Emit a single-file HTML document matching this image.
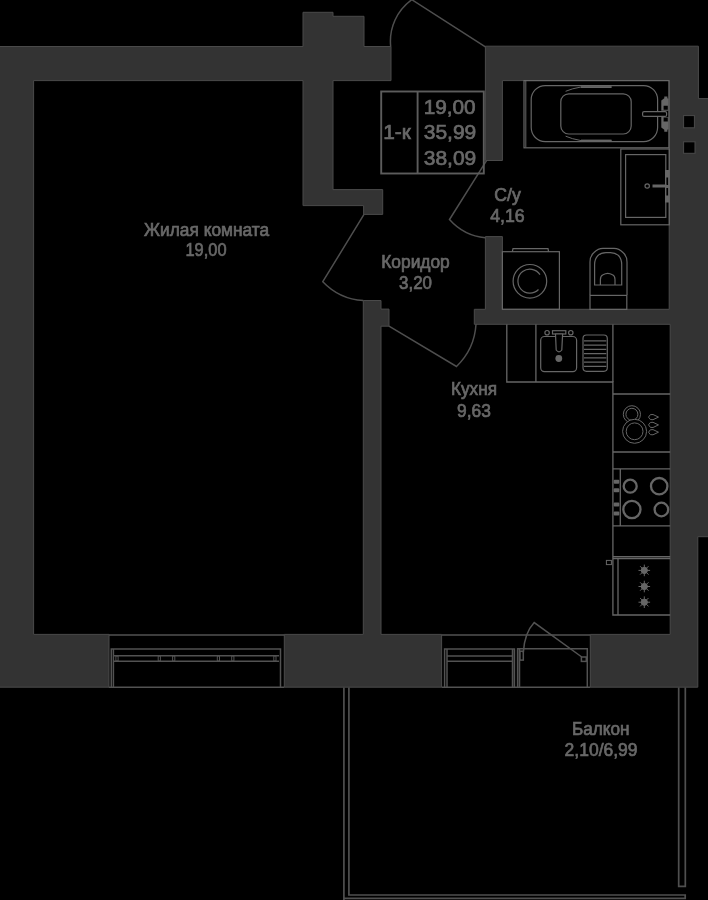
<!DOCTYPE html>
<html><head><meta charset="utf-8">
<style>
html,body{margin:0;padding:0;background:#000;width:708px;height:900px;overflow:hidden}
svg{display:block}
text{font-family:"Liberation Sans",sans-serif;fill:#686868;stroke:#686868;stroke-width:0.7px}
svg{will-change:transform}
</style></head><body>
<svg width="708" height="900" viewBox="0 0 708 900">
<rect width="708" height="900" fill="#000"/>
<!-- walls -->
<g fill="#333" stroke="#4a4a4a" stroke-width="1">
<path d="M-2 46.5 H303 V12.3 H333 V16.3 H364 V46.5 H391 V80.6 H333 V189.6 H382.7 V214.4 H363.6 V205.6 H303 V80.6 H33.6 V634.4 H109 V687.2 H-2 Z"/>
<path d="M284.3 634.4 H363.3 V300.5 H381 V309.1 H389 V326.2 H381 V634.4 H441.6 V687.2 H284.3 Z"/>
<path d="M485.4 46.2 H698.4 V98.6 H710 V536.7 H697.8 V687.2 H590.3 V634.4 H670.2 V324.3 H474.3 V309.3 H485.4 V236.6 H502.4 V309.3 H669.2 V80.6 H502.4 V160.5 H485.4 Z"/>
</g>
<!-- vent holes -->
<g fill="#000" stroke="#4a4a4a" stroke-width="1">
<rect x="683.6" y="115.6" width="10.8" height="12.2"/>
<rect x="683.6" y="141.8" width="11.4" height="11.5"/>
</g>
<!-- doors -->
<g fill="none" stroke="#4e4e4e" stroke-width="1.5">
<path d="M390.7 46.5 A51 51 0 0 1 411.8 -0.3 L485.4 46.9"/>
<path d="M364 214.4 L322.8 281.7 A61.5 61.5 0 0 0 363.3 300.6"/>
<path d="M389 326.2 L456.5 366.5 A64 64 0 0 0 476 324.3"/>
<path d="M486.5 160.6 L449.5 219.5 A55 55 0 0 0 485.4 237.8"/>
</g>
<!-- windows -->
<g fill="none" stroke="#525252" stroke-width="1.5">
<line x1="109" y1="634.9" x2="284.3" y2="634.9"/>
<line x1="109" y1="687.2" x2="284.3" y2="687.2"/>
<path d="M111.3 687 V649 H280.5 V687"/>
<line x1="113.4" y1="649" x2="113.4" y2="687"/>
<line x1="113.4" y1="655.8" x2="279" y2="655.8"/>
<line x1="113.4" y1="661.3" x2="279" y2="661.3"/>
<rect x="115.9" y="656" width="2.2" height="5" stroke-width="1"/><rect x="158.2" y="656" width="2.2" height="5" stroke-width="1"/><rect x="172.6" y="656" width="2.2" height="5" stroke-width="1"/><rect x="217.3" y="656" width="2.2" height="5" stroke-width="1"/><rect x="231.7" y="656" width="2.2" height="5" stroke-width="1"/><rect x="273.8" y="656" width="2.2" height="5" stroke-width="1"/>
<line x1="441.6" y1="634.9" x2="590.3" y2="634.9"/>
<line x1="441.6" y1="687.2" x2="590.3" y2="687.2"/>
<path d="M444.6 687 V648.9 H514.4 V687 M447 649 V687 M512.5 649 V687"/>
<line x1="447" y1="656.1" x2="512.5" y2="656.1"/>
<line x1="447" y1="661.3" x2="512.5" y2="661.3"/>
<path d="M517.6 687 V648.7 H587.3 V687 M519.5 649 V687"/>
<rect x="519.9" y="651.2" width="3.4" height="8.9"/>
<rect x="581.4" y="657" width="4.9" height="4.4"/>
<path d="M523.3 652.5 Q524.5 633 534.2 622.6 L581.8 657"/>
</g>
<!-- balcony -->
<g fill="none" stroke="#4f4f4f" stroke-width="1.7">
<path d="M343.9 687.5 V902 M348.9 687.5 V895 H685.2 V898.4 H343.9"/>
<path d="M678.7 687.5 V886.4 H685.3 V687.5"/>
</g>
<!-- info box -->
<g fill="none" stroke="#5c5c5c" stroke-width="1.9">
<rect x="381.2" y="91.5" width="102.6" height="82"/>
<line x1="417.6" y1="91.5" x2="417.6" y2="173.5"/>
</g>
<!-- labels -->
<g font-size="17.6" text-anchor="middle">
<text x="206.6" y="235.5" textLength="125" lengthAdjust="spacingAndGlyphs">Жилая комната</text>
<text font-size="18.5" x="206" y="256.3" textLength="41" lengthAdjust="spacingAndGlyphs">19,00</text>
<text x="507.6" y="200.8" textLength="26.5" lengthAdjust="spacingAndGlyphs">С/у</text>
<text font-size="18.5" x="507.4" y="221.6" textLength="34.5" lengthAdjust="spacingAndGlyphs">4,16</text>
<text x="415.5" y="267.6" textLength="68.6" lengthAdjust="spacingAndGlyphs">Коридор</text>
<text font-size="18.5" x="415.5" y="288.8" textLength="33" lengthAdjust="spacingAndGlyphs">3,20</text>
<text x="474" y="394.7" textLength="45.9" lengthAdjust="spacingAndGlyphs">Кухня</text>
<text font-size="18.5" x="474" y="416.6" textLength="33.8" lengthAdjust="spacingAndGlyphs">9,63</text>
<text x="600.8" y="734.8" textLength="57.6" lengthAdjust="spacingAndGlyphs">Балкон</text>
<text font-size="18.5" x="601.1" y="756.2" textLength="73" lengthAdjust="spacingAndGlyphs">2,10/6,99</text>
</g>
<g font-size="21" text-anchor="middle">
<text x="397" y="139.4" textLength="27.6" lengthAdjust="spacingAndGlyphs">1-к</text>
<text x="449.7" y="114.2" textLength="52" lengthAdjust="spacingAndGlyphs">19,00</text>
<text x="450" y="139.4" textLength="52.5" lengthAdjust="spacingAndGlyphs">35,99</text>
<text x="450" y="164.6" textLength="52.5" lengthAdjust="spacingAndGlyphs">38,09</text>
</g>
<!-- bathtub -->
<g fill="none" stroke="#666666" stroke-width="1.2">
<rect x="524" y="80.6" width="145" height="67.2"/>
<line x1="525.8" y1="81" x2="525.8" y2="147.5" stroke-width="1"/>
<rect x="531.2" y="85.6" width="126.4" height="56" rx="14" ry="14"/>
<rect x="560.8" y="93.8" width="70.4" height="40.2" rx="8" ry="8"/>
<path d="M565.6 91.3 Q572 88.5 581 87 H611.5" stroke-width="1"/>
<path d="M581 87.1 H611.5" stroke-width="1.8"/>
<path d="M565.6 136.2 Q572 139 581 140.6 H611.5" stroke-width="1"/>
<path d="M581 140.5 H611.5" stroke-width="1.8"/>
<rect x="642.6" y="111.6" width="24" height="4.8" rx="1.5" fill="#000"/>
<path d="M661.3 110.8 V100.5 L664.3 98.2 V96.4 H667.4 V98.2 L668.6 98.8 V110.8 Z M663.6 105.8 V109.8 H667.8 V105.8 Z" fill="#666666" fill-rule="evenodd" stroke="none"/>
<path d="M661.3 117 V127.5 L664.3 129.8 V131.7 H667.4 V129.8 L668.6 129.2 V117 Z M663.6 117.6 V121.6 H667.8 V117.6 Z" fill="#666666" fill-rule="evenodd" stroke="none"/>
</g>
<!-- bathroom sink -->
<g fill="none" stroke="#666666" stroke-width="1.2">
<rect x="620.8" y="149" width="48.5" height="75.8"/>
<rect x="625.6" y="154.6" width="40.2" height="62.8"/>
<circle cx="647.2" cy="186" r="2.2"/>
<rect x="652.5" y="184.5" width="14" height="3" fill="#666666" stroke="none"/>
<path d="M665 170 H669 V202.5 H665 Z M666 177.5 V185 H668.2 V177.5 Z M666 188 V195.5 H668.2 V188 Z" fill="#666666" fill-rule="evenodd" stroke="none"/>
</g>
<!-- washing machine -->
<g fill="none" stroke="#666666" stroke-width="1.2">
<rect x="502.4" y="251.7" width="57" height="57.6"/>
<path d="M512.3 251.9 L513 248.6 H548 L548.6 251.9"/>
<circle cx="529.9" cy="281.3" r="16.8"/>
<path d="M540 274.6 A12 12 0 1 0 538.5 289.5"/>
</g>
<!-- toilet -->
<g fill="none" stroke="#666666" stroke-width="1.2">
<path d="M590 295 V262 Q590 256 594 252.5 Q598 248.4 603 248.4 H614 Q619 248.4 623 252.5 Q627 256 627 262 V295"/>
<rect x="590" y="295.4" width="36.8" height="14"/>
<path d="M594.6 285 V264.5 Q594.6 259 598 255.5 Q601 252.6 606 252.6 H610.5 Q615 252.6 618.5 255.5 Q621.7 259 621.7 264.5 V285 Z"/>
<path d="M600.4 285 V279.5 Q600.4 276 603 274.8 Q605.5 273.3 607.7 273.3 Q610 273.3 612.5 274.8 Q615 276 615 279.5 V285"/>
</g>
<!-- kitchen counters -->
<g fill="none" stroke="#666666" stroke-width="1.3">
<path d="M506.8 324.5 V382 H612.9 V615 H670.2"/>
<line x1="535.9" y1="324.5" x2="535.9" y2="382"/>
<line x1="612.9" y1="324.5" x2="612.9" y2="382"/>
<line x1="612.9" y1="394" x2="670.2" y2="394"/>
<line x1="612.9" y1="452" x2="670.2" y2="452"/>
<path d="M612.9 468.9 H670.2 M612.9 525.8 H670.2 M620.3 468.9 V525.8"/>
<path d="M612.9 556.7 H670.2 M612.9 558.5 H670.2 M618 558.5 V615"/>
</g>
<!-- kitchen sink -->
<g fill="none" stroke="#666666" stroke-width="1.2">
<rect x="540.7" y="336.5" width="35.9" height="35.1" rx="3.8"/>
<rect x="583" y="335" width="24.3" height="36.3" rx="3.5"/>
<path d="M584 340.9 H606.3 M584 345.1 H606.3 M584 349.4 H606.3 M584 353.6 H606.3 M584 357.8 H606.3 M584 362.1 H606.3 M584 366.3 H606.3"/>
<rect x="552.5" y="330.7" width="13.3" height="3.3" fill="#000"/>
<path d="M555.5 334 L556.2 350 Q559 353.8 561.8 350 L562.6 334 Z" fill="#000"/>
<circle cx="547.1" cy="332.7" r="2.2" fill="#000"/>
<circle cx="570.8" cy="332.7" r="2.2" fill="#000"/>
</g>
<circle cx="558.8" cy="358.5" r="3.4" fill="#666666"/>
<!-- dishwasher -->
<g fill="none" stroke="#666666" stroke-width="1">
<circle cx="631.9" cy="414.3" r="8.6"/>
<circle cx="631.9" cy="414.3" r="6"/>
<circle cx="634.6" cy="431.3" r="12" fill="#000"/>
<circle cx="634.6" cy="431.3" r="8.4"/>
<path d="M648.5 417.1 Q650 413.5 653 414.5 L658.5 417.1 L653 419.7 Q650 420.7 648.5 417.1 Z"/>
<path d="M648.5 424.9 Q650 421.3 653 422.3 L658.5 424.9 L653 427.5 Q650 428.5 648.5 424.9 Z"/>
<path d="M648.5 432.2 Q650 428.6 653 429.6 L658.5 432.2 L653 434.8 Q650 435.8 648.5 432.2 Z"/>
</g>
<!-- stove -->
<g fill="none" stroke="#666666" stroke-width="2.3">
<circle cx="630.2" cy="486.2" r="6.5"/>
<circle cx="659.2" cy="486.2" r="8.2"/>
<circle cx="631.9" cy="509.5" r="8.6"/>
<circle cx="661.4" cy="509.5" r="6.8"/>
</g>
<g fill="#666666">
<rect x="613.7" y="479.8" width="5.6" height="4" rx="1"/>
<rect x="613.7" y="488.2" width="5.6" height="4" rx="1"/>
<rect x="613.7" y="502.5" width="5.6" height="4" rx="1"/>
<rect x="613.7" y="511.4" width="5.6" height="4" rx="1"/>
</g>
<!-- fridge -->
<g fill="none" stroke="#666666" stroke-width="1">
<rect x="606.4" y="560.4" width="5" height="4.2"/>
</g>
<g fill="#666666" stroke="#666666" stroke-width="1">
<g transform="translate(644.3 570.4)"><circle r="3.1"/><path d="M-5.8 0 H5.8 M0 -5.8 V5.8 M-4.2 -4.2 L4.2 4.2 M-4.2 4.2 L4.2 -4.2"/></g>
<g transform="translate(644.3 586.5)"><circle r="3.1"/><path d="M-5.8 0 H5.8 M0 -5.8 V5.8 M-4.2 -4.2 L4.2 4.2 M-4.2 4.2 L4.2 -4.2"/></g>
<g transform="translate(644.3 602.2)"><circle r="3.1"/><path d="M-5.8 0 H5.8 M0 -5.8 V5.8 M-4.2 -4.2 L4.2 4.2 M-4.2 4.2 L4.2 -4.2"/></g>
</g>
</svg>
</body></html>
